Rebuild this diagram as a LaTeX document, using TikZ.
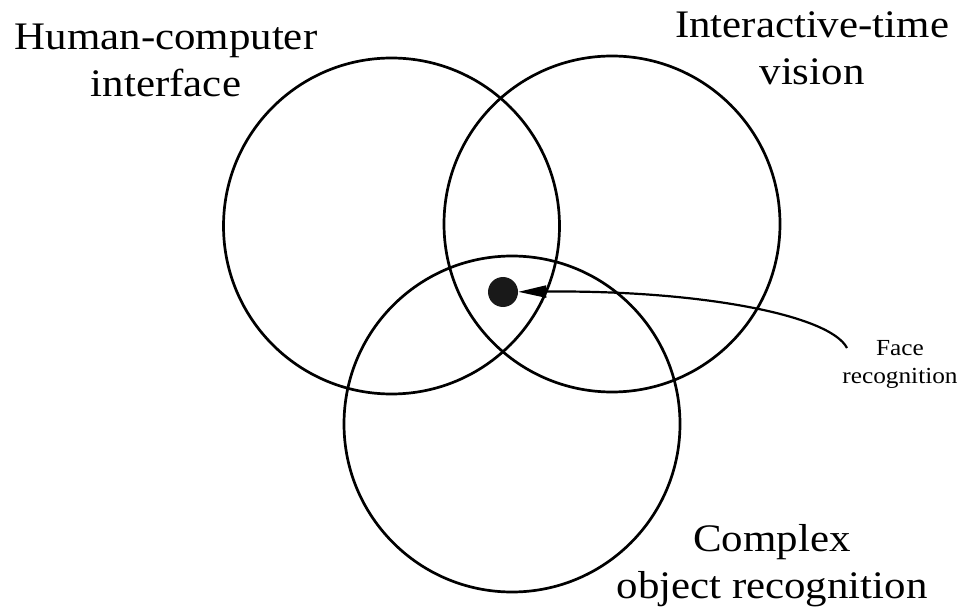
\documentclass[tikz,border=0pt]{standalone}
\usepackage{fontspec}
\setmainfont{Liberation Serif}[FakeStretch=1.1]
\usetikzlibrary{arrows.meta}
\begin{document}
\begin{tikzpicture}[x=1pt,y=-1pt,
  ring/.style={circle,draw=black,line width=2.7pt,minimum size=336pt,inner sep=0pt},
  biglabel/.style={align=center,inner sep=0pt,font=\fontsize{39}{47}\selectfont},
  smalllabel/.style={align=center,inner sep=0pt,font=\fontsize{23}{28}\selectfont},
  pointer/.style={draw=black,line width=2.2pt,-{Triangle[length=28pt,width=12pt]}}
  ]
\useasboundingbox (0,0) rectangle (960,609);
\node[ring] (hci) at (391.5,226) {};
\node[ring] (itv) at (612,224) {};
\node[ring] (cor) at (512,424) {};
\node[circle,fill=black!90,minimum size=30pt,inner sep=0pt] (dot) at (503,292) {};
\node[biglabel] (hcilab) at (166,60) {Human-computer\\interface};
\node[biglabel] (itvlab) at (812,48) {Interactive-time\\vision};
\node[biglabel] (corlab) at (772,566) {Complex\\object recognition};
\node[smalllabel] (facelab) at (900,364) {Face\\recognition};
\coordinate (fstart) at (847,348);
\draw[pointer] (fstart) .. controls (830,315) and (700,290) .. (dot);
\end{tikzpicture}
\end{document}
